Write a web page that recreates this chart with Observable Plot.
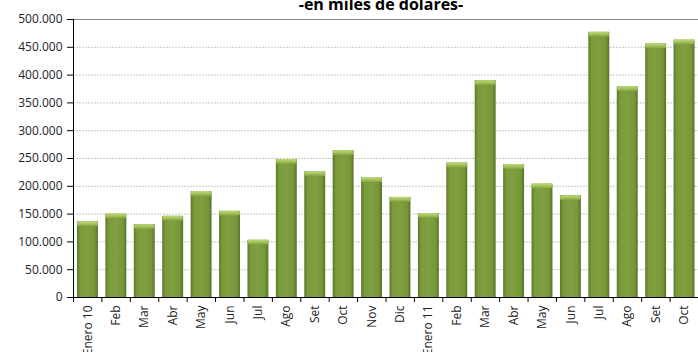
<!DOCTYPE html>
<html>
<head>
<meta charset="utf-8">
<script src="https://cdn.jsdelivr.net/npm/d3@7"></script>
<script src="https://cdn.jsdelivr.net/npm/@observablehq/plot@0.6"></script>
<style>
  html, body { margin: 0; padding: 0; background: #fff; }
  #wrap { position: relative; width: 698px; height: 352px; overflow: hidden; font-family: "Open Sans", sans-serif; }
  #title { position: absolute; left: 0; width: 762px; top: -4px; text-align: center; font-weight: bold; font-size: 16px; line-height: 16px; color: #000; }
</style>
</head>
<body>
<div id="wrap">
  <div id="chart"></div>
  <div id="title">-en miles de dolares-</div>
</div>
<script>
const months = ["Enero 10","Feb","Mar","Abr","May","Jun","Jul","Ago","Set","Oct","Nov","Dic",
                "Enero 11","Feb","Mar","Abr","May","Jun","Jul","Ago","Set","Oct"];
const values = [136000,150000,131000,146000,190000,155000,103000,248000,226000,264000,215000,180000,
                151000,242000,390000,239000,204000,183000,477000,379000,456000,463000];
const yTicks = [0,50000,100000,150000,200000,250000,300000,350000,400000,450000,500000];

const data = months.map((m, i) => ({i, m, v: values[i]}));
const fmt = d3.formatLocale({decimal: ",", thousands: ".", grouping: [3], currency: ["$", ""]}).format(",");

const plot = Plot.plot({
  width: 698,
  height: 352,
  marginLeft: 73,
  marginRight: 0,
  marginTop: 19,
  marginBottom: 55,
  style: {fontFamily: "Open Sans, sans-serif", fontSize: "12px", color: "#222", background: "#fff"},
  x: {type: "linear", domain: [0, months.length], axis: null},
  y: {domain: [0, 500000], axis: null},
  marks: [
    Plot.gridY(yTicks.filter(d => d > 0 && d < 500000), {stroke: "#c8c8c8", strokeOpacity: 1, strokeDasharray: "2,1"}),
    Plot.ruleY([500000], {stroke: "#888", strokeWidth: 1}),
    Plot.rect(data, {x1: "i", x2: d => d.i + 1, y1: 0, y2: "v", insetLeft: 4, insetRight: 3.5, fill: "url(#barGrad)", ariaLabel: "bars"}),
    Plot.rect(data, {x1: "i", x2: d => d.i + 1, y1: "v", y2: "v", insetLeft: 4, insetRight: 3.5, insetBottom: -5, fill: "url(#capGrad)", rx: 2, ariaLabel: "caps"}),
    Plot.ruleX([0], {stroke: "#000"}),
    Plot.ruleY([0], {stroke: "#000"}),
    Plot.axisY({ticks: yTicks, tickFormat: fmt, tickSize: 6, tickPadding: 5, stroke: "#000", fill: "#222", label: null}),
    Plot.axisX({ticks: d3.range(0, months.length + 1), tickFormat: () => "", tickSize: 5, stroke: "#000", label: null}),
    Plot.axisX({ticks: data.map(d => d.i + 0.5), tickFormat: d => months[Math.round(d - 0.5)], tickSize: 0, tickPadding: 8, tickRotate: -90, fill: "#222", label: null})
  ]
});

const svg = d3.select(plot);
const defs = svg.insert("defs", ":first-child");
const bg = defs.append("linearGradient").attr("id", "barGrad").attr("x1", "0").attr("x2", "1").attr("y1", "0").attr("y2", "0");
bg.append("stop").attr("offset", "0").attr("stop-color", "#5c772a");
bg.append("stop").attr("offset", "0.15").attr("stop-color", "#7a9a3b");
bg.append("stop").attr("offset", "0.5").attr("stop-color", "#7f9f40");
bg.append("stop").attr("offset", "0.85").attr("stop-color", "#779638");
bg.append("stop").attr("offset", "1").attr("stop-color", "#55702a");
const cg = defs.append("linearGradient").attr("id", "capGrad").attr("x1", "0").attr("x2", "0").attr("y1", "0").attr("y2", "1");
cg.append("stop").attr("offset", "0").attr("stop-color", "#bcd977");
cg.append("stop").attr("offset", "0.5").attr("stop-color", "#a2c25a");
cg.append("stop").attr("offset", "1").attr("stop-color", "#7f9f40");
const f = defs.append("filter").attr("id", "shadow").attr("x", "-30%").attr("y", "-5%").attr("width", "160%").attr("height", "110%");
f.append("feDropShadow").attr("dx", "1").attr("dy", "0").attr("stdDeviation", "1.5").attr("flood-color", "#000").attr("flood-opacity", "0.45");
svg.select('g[aria-label="bars"]').attr("filter", "url(#shadow)");

document.getElementById("chart").appendChild(plot);
</script>
</body>
</html>
